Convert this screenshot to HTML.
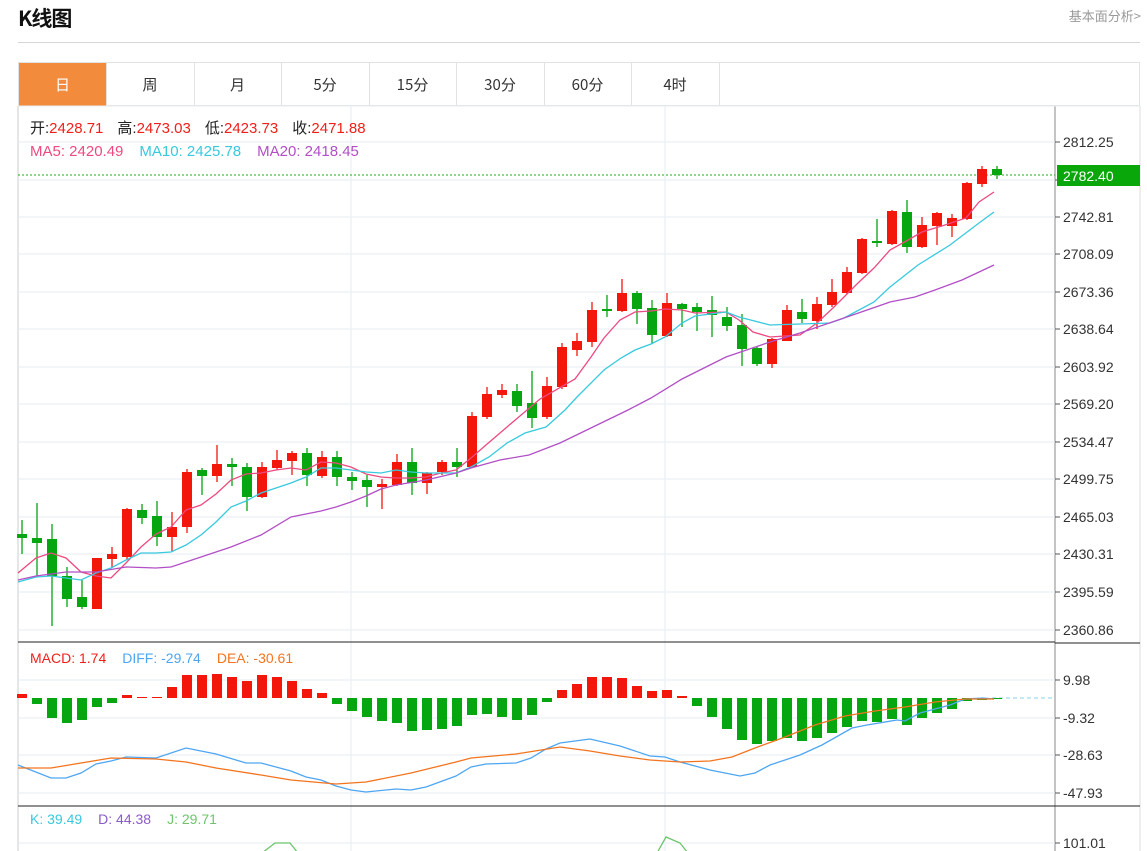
<!DOCTYPE html>
<html><head><meta charset="utf-8">
<style>
body{margin:0;background:#fff;font-family:"Liberation Sans","Noto Sans CJK SC",sans-serif;width:1147px;height:851px;overflow:hidden;position:relative}
.t{position:absolute;left:18px;top:3px;font-size:21px;font-weight:bold;color:#111;font-family:"Noto Sans CJK SC",sans-serif;letter-spacing:-1px}
.r{position:absolute;right:6px;top:6px;font-size:13px;color:#999;font-family:"Noto Sans CJK SC",sans-serif}
.hl{position:absolute;left:18px;top:42px;width:1122px;height:1px;background:#d6d6d6}
.tabs{position:absolute;left:18px;top:62px;width:1122px;height:44px;border:1px solid #e2e2e2;box-sizing:border-box}
.tab{position:absolute;top:0;height:43px;width:87px;border-right:1px solid #e2e2e2;text-align:center;line-height:43px;font-size:15px;color:#333;font-family:"Noto Sans CJK SC",sans-serif}
svg{position:absolute;left:0;top:0}
</style></head><body>
<div class="t">K线图</div>
<div class="r">基本面分析&gt;</div>
<div class="hl"></div>
<div class="tabs">
<div class="tab" style="left:0;background:#f28c3c;color:#fff">日</div>
<div class="tab" style="left:87.5px">周</div>
<div class="tab" style="left:175px">月</div>
<div class="tab" style="left:262.5px">5分</div>
<div class="tab" style="left:350px">15分</div>
<div class="tab" style="left:437.5px">30分</div>
<div class="tab" style="left:525px">60分</div>
<div class="tab" style="left:612.5px">4时</div>
</div>
<svg id="s" width="1147" height="851" xmlns="http://www.w3.org/2000/svg"></svg>
<script>
var s=document.getElementById('s'),h='';
function L(x1,y1,x2,y2,c,w,d){h+='<line x1="'+x1+'" y1="'+y1+'" x2="'+x2+'" y2="'+y2+'" stroke="'+c+'" stroke-width="'+(w||1)+'"'+(d?' stroke-dasharray="'+d+'"':'')+'/>';}
function R(x,y,w,hh,c){h+='<rect x="'+x+'" y="'+y+'" width="'+w+'" height="'+Math.max(hh,1)+'" fill="'+c+'"/>';}
function T(x,y,t,c,sz,a){h+='<text x="'+x+'" y="'+y+'" fill="'+c+'" font-size="'+(sz||14)+'"'+(a?' text-anchor="'+a+'"':'')+'>'+t+'</text>';}
function P(pts,c){h+='<polyline fill="none" stroke="'+c+'" stroke-width="1.3" points="'+pts.map(function(p){return p.join(',')}).join(' ')+'"/>';}
var G='#e6edf3';
// borders
L(18,106,18,851,'#ccc');L(1055,106,1055,851,'#888');L(1140,106,1140,851,'#ddd');
L(18,106,1140,106,G);
var py=[142,180,217,254,292,329,367,404,442,479,517,554,592,630];
py.forEach(function(y){L(18,y,1055,y,G)});
L(351,106,351,851,G);L(665,106,665,851,G);
var pl=['2812.25','2777.53','2742.81','2708.09','2673.36','2638.64','2603.92','2569.20','2534.47','2499.75','2465.03','2430.31','2395.59','2360.86'];
py.forEach(function(y,i){L(1055,y,1060,y,'#555');if(i!=1)T(1063,y+5,pl[i],'#333',14)});
L(18,642,1055,642,'#222');L(1055,643,1140,643,'#222');
L(18,806,1055,806,'#222');L(1055,806,1140,806,'#222');
[680,718,755,793].forEach(function(y){L(18,y,1055,y,G)});
L(18,843,1055,843,G);
[['9.98',680],['-9.32',718],['-28.63',755],['-47.93',793],['101.01',843]].forEach(function(a){L(1055,a[1],1060,a[1],'#555');T(1063,a[1]+5,a[0],'#333',14)});
// dotted price line & tag
L(18,175,1055,175,'#1fa81f',1,'2,2');
R(1057,165,83,21,'#0aa70a');T(1063,181,'2782.40','#fff',14);
// candles [o,c,hi,lo] y-values
var C=[[534,538,520,554],[538,543,503,576],[539,576,524,626],[576,599,567,607],[597,607,580,609],[609,558,558,609],[559,554,547,568],[557,509,508,560],[510,518,504,524],[516,537,501,546],[537,527,512,552],[527,472,469,533],[470,476,468,495],[476,464,445,482],[464,467,458,486],[467,497,463,511],[497,467,462,498],[468,460,450,470],[461,453,451,475],[453,475,448,486],[476,457,451,478],[457,477,451,486],[477,481,472,490],[480,487,475,507],[487,484,479,509],[485,462,454,486],[462,483,448,495],[483,473,472,494],[472,462,460,475],[462,467,448,477],[467,416,412,468],[417,394,387,419],[395,390,384,398],[391,406,384,412],[403,418,371,428],[417,386,377,419],[387,347,343,389],[350,341,333,356],[342,310,302,347],[309,311,295,317],[311,293,279,312],[293,309,291,324],[308,335,300,344],[336,303,293,337],[304,309,303,327],[307,312,303,331],[310,315,296,337],[317,326,307,331],[325,349,314,366],[348,364,346,366],[364,339,338,368],[341,310,305,341],[312,319,299,323],[321,304,297,329],[305,292,279,307],[293,272,267,294],[273,239,238,274],[241,243,219,247],[244,211,210,245],[212,247,200,253],[247,225,217,248],[226,213,212,245],[226,218,214,237],[219,183,182,220],[184,169,166,187],[169,175,166,179]];
var RED='#f3160a',GRN='#05a60f';
C.forEach(function(c,i){var x=22+i*15,col=c[1]<c[0]?RED:GRN;L(x,c[2],x,c[3],col,1.3);var t=Math.min(c[0],c[1]),b=Math.max(c[0],c[1]);R(x-5,t,10,b-t,col);});
// MAs
P([[18,573],[36,558],[51,553],[66,558],[81,572],[96,576],[111,578],[126,563],[141,547],[156,534],[171,527],[186,510],[201,505],[216,494],[231,480],[246,474],[261,473],[276,470],[291,468],[306,470],[321,462],[336,463],[351,467],[366,474],[381,477],[396,478],[411,478],[426,477],[441,473],[456,470],[471,458],[486,445],[507,427],[540,399],[575,379],[591,357],[604,338],[620,320],[635,312],[651,311],[665,309],[682,310],[695,313],[726,312],[739,320],[753,332],[770,337],[800,335],[817,323],[834,307],[858,283],[874,268],[890,250],[908,240],[922,232],[945,225],[966,218],[979,202],[994,192]],'#ec4a80');
P([[18,582],[36,577],[51,576],[66,578],[81,580],[96,573],[111,568],[126,560],[141,553],[156,553],[171,552],[186,545],[201,535],[216,522],[231,507],[246,501],[261,493],[276,488],[291,483],[306,477],[321,468],[336,468],[351,470],[366,472],[381,473],[396,470],[411,472],[426,473],[441,473],[456,473],[471,467],[489,457],[507,443],[525,433],[546,427],[565,410],[577,397],[604,370],[621,358],[635,350],[651,344],[665,337],[682,323],[695,316],[726,312],[739,317],[770,325],[800,324],[830,323],[844,318],[874,302],[890,287],[918,265],[950,245],[979,223],[994,212]],'#38c9de');
P([[18,580],[36,576],[51,574],[66,572],[96,572],[126,567],[156,568],[171,567],[201,557],[231,547],[261,535],[291,517],[321,511],[336,507],[351,502],[366,496],[381,489],[396,485],[426,480],[456,473],[471,468],[500,460],[529,455],[560,443],[628,410],[651,398],[682,379],[726,357],[770,342],[800,333],[844,318],[890,302],[915,297],[935,290],[962,280],[994,265]],'#b24fc6');
// MACD
L(992,698,1055,698,'#8ad0ee',1,'4,3');
var M=[694,704,718,723,720,707,703,695,697,697,687,675,675,674,677,681,675,677,681,689,693,704,711,717,721,723,731,730,729,726,715,714,717,720,715,702,690,684,677,677,678,686,691,690,696,706,717,729,740,744,741,738,741,738,733,727,721,722,719,725,718,713,709,701,700,699];
M.forEach(function(v,i){var x=22+i*15;if(v<698)R(x-5,v,10,698-v,RED);else R(x-5,698,10,v-698,GRN);});
P([[18,765],[51,778],[66,778],[81,773],[96,764],[111,761],[126,757],[156,758],[186,748],[216,754],[246,763],[261,763],[291,771],[306,777],[321,780],[336,786],[351,790],[366,792],[396,789],[411,790],[426,787],[456,776],[471,767],[486,764],[516,763],[531,758],[546,749],[560,743],[590,739],[620,746],[650,756],[665,757],[680,762],[710,770],[740,776],[755,773],[770,765],[800,755],[822,745],[852,728],[867,725],[897,720],[905,721],[920,713],[950,705],[965,699],[983,698],[994,699]],'#4ea6f2');
P([[18,768],[51,768],[81,763],[111,758],[156,759],[186,762],[216,768],[261,775],[291,780],[336,784],[366,782],[411,773],[456,762],[471,758],[516,754],[560,747],[590,751],[620,756],[650,760],[680,762],[710,761],[732,757],[755,748],[785,737],[815,725],[845,716],[875,711],[905,707],[935,702],[965,699],[994,699]],'#f3741e');
// KDJ
P([[262,853],[275,843],[290,843],[298,853]],'#6cc56c');
P([[657,853],[666,837],[680,843],[688,853]],'#6cc56c');
// legends
var ff=' font-family="Liberation Sans,Noto Sans CJK SC,sans-serif"';
h+='<text x="30" y="133" font-size="15"'+ff+'><tspan fill="#222">开:</tspan><tspan fill="#f0201a">2428.71</tspan><tspan fill="#222" dx="14">高:</tspan><tspan fill="#f0201a">2473.03</tspan><tspan fill="#222" dx="14">低:</tspan><tspan fill="#f0201a">2423.73</tspan><tspan fill="#222" dx="14">收:</tspan><tspan fill="#f0201a">2471.88</tspan></text>';
h+='<text x="30" y="156" font-size="15"'+ff+'><tspan fill="#ec4a80">MA5: 2420.49</tspan><tspan fill="#38c9de" dx="16">MA10: 2425.78</tspan><tspan fill="#b24fc6" dx="16">MA20: 2418.45</tspan></text>';
h+='<text x="30" y="663" font-size="14"'+ff+'><tspan fill="#f0201a">MACD: 1.74</tspan><tspan fill="#4ea6f2" dx="16">DIFF: -29.74</tspan><tspan fill="#f3741e" dx="16">DEA: -30.61</tspan></text>';
h+='<text x="30" y="824" font-size="14"'+ff+'><tspan fill="#38c9de">K: 39.49</tspan><tspan fill="#8a5cc6" dx="16">D: 44.38</tspan><tspan fill="#6cc56c" dx="16">J: 29.71</tspan></text>';
s.innerHTML=h;
</script>
</body></html>
